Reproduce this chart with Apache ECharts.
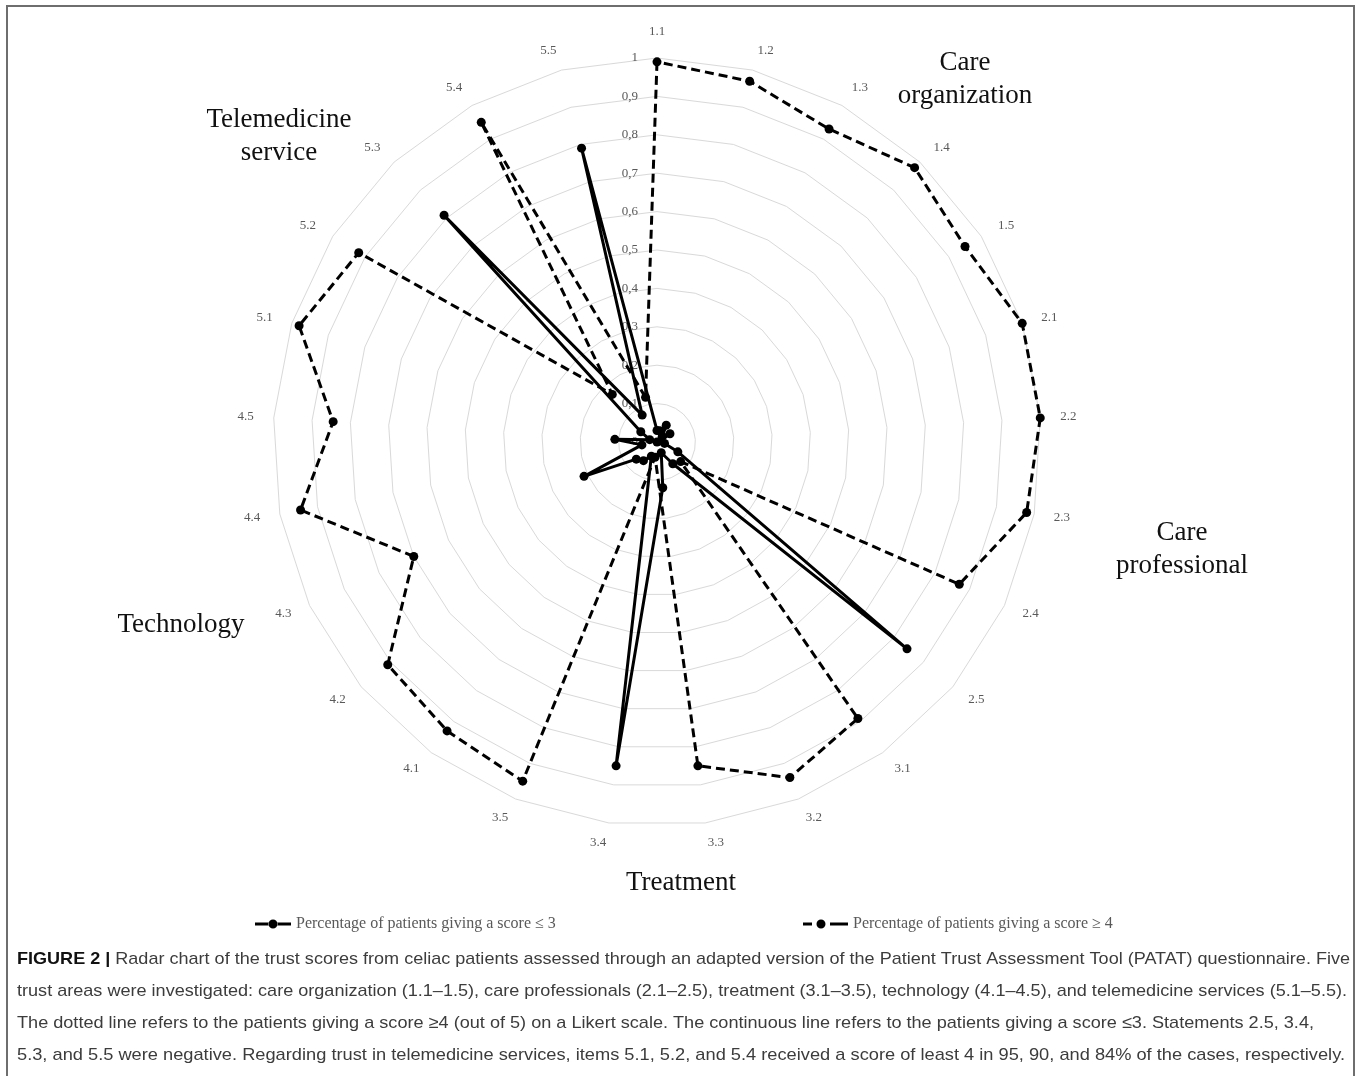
<!DOCTYPE html>
<html><head><meta charset="utf-8">
<script src="https://cdn.jsdelivr.net/npm/echarts@6/dist/echarts.min.js"></script>
<style>html,body{margin:0;padding:0;background:#fff}#c{width:1360px;height:1076px}</style>
</head><body><div id="c"></div>
<script>
// ---- data ----
const items = ['1.1','1.2','1.3','1.4','1.5','2.1','2.2','2.3','2.4','2.5','3.1','3.2','3.3','3.4','3.5','4.1','4.2','4.3','4.4','4.5','5.1','5.2','5.3','5.4','5.5'];
const scoreLow  = [0.03,0.03,0.05,0.02,0.04, 0.01,0.00,0.02,0.06,0.845, 0.07,0.03,0.12,0.85,0.04, 0.06,0.07,0.21,0.04,0.11, 0.02,0.05,0.81,0.08,0.79];
const scoreHigh = [0.99,0.97,0.93,0.98,0.95, 1.00,1.00,0.98,0.87,0.08, 0.89,0.94,0.85,0.04,0.95, 0.93,0.91,0.70,0.945,0.845, 0.98,0.92,0.17,0.95,0.12];
const seriesNames = ['Percentage of patients giving a score \u2264 3', 'Percentage of patients giving a score \u2265 4'];
const ringTicks = ['0','0,1','0,2','0,3','0,4','0,5','0,6','0,7','0,8','0,9','1'];
const areaNames = ['Care\norganization','Care\nprofessional','Treatment','Technology','Telemedicine\nservice'];
const captionBold = 'FIGURE 2 |';
const captionLines = [
 ' Radar chart of the trust scores from celiac patients assessed through an adapted version of the Patient Trust Assessment Tool (PATAT) questionnaire. Five',
 'trust areas were investigated: care organization (1.1\u20131.5), care professionals (2.1\u20132.5), treatment (3.1\u20133.5), technology (4.1\u20134.5), and telemedicine services (5.1\u20135.5).',
 'The dotted line refers to the patients giving a score \u22654 (out of 5) on a Likert scale. The continuous line refers to the patients giving a score \u22643. Statements 2.5, 3.4,',
 '5.3, and 5.5 were negative. Regarding trust in telemedicine services, items 5.1, 5.2, and 5.4 received a score of least 4 in 95, 90, and 84% of the cases, respectively.'
];

// ECharts places radar axes counter-clockwise; reference runs clockwise.
const order = [0];
for (let i = items.length - 1; i >= 1; i--) order.push(i);

const SERIF = '"Liberation Serif", "Times New Roman", serif';
const SANS = '"Liberation Sans", Arial, sans-serif';

// caption scaling (narrow font imitation)
const mctx = document.createElement('canvas').getContext('2d');
function tw(font, s) { mctx.font = font; return mctx.measureText(s).width; }
const capSize = 17;
const capFont = capSize + 'px ' + SANS;
const capBoldFont = 'bold ' + capSize + 'px ' + SANS;
const capX = 17;
const capRight = [1350, 1347, 1314, 1345];
const capY = [959, 991, 1023, 1055];
const capGraphics = captionLines.map((line, i) => {
  let w = tw(capFont, line);
  let text = line;
  let rich;
  if (i === 0) {
    w += tw(capBoldFont, captionBold);
    text = '{b|' + captionBold + '}' + line;
    rich = { b: { fontWeight: 'bold', fontSize: capSize, fontFamily: SANS, fill: '#111' } };
  }
  const s = (capRight[i] - capX) / w;
  return {
    type: 'text', x: capX, y: capY[i], scaleX: s, silent: true,
    style: { text: text, font: capFont, fill: '#3c3c3c', textAlign: 'left', textVerticalAlign: 'middle', rich: rich }
  };
});

const areaPos = [[965, 79], [1182, 549], [681, 883], [181, 625], [279, 136]];
const areaGraphics = areaNames.map((n, i) => ({
  type: 'text', x: areaPos[i][0], y: areaPos[i][1], silent: true,
  style: { text: n, font: '27px ' + SERIF, fill: '#111', textAlign: 'center', textVerticalAlign: 'middle', lineHeight: 33 }
}));

const iconSolid = 'path://M0,3.5H14V6.5H0Z M22,3.5H36V6.5H22Z M13.5,5A4.5,4.5 0 1 0 22.5,5A4.5,4.5 0 1 0 13.5,5Z';
const iconDash = 'path://M0,3.5H9V6.5H0Z M27,3.5H45V6.5H27Z M13.5,5A4.5,4.5 0 1 0 22.5,5A4.5,4.5 0 1 0 13.5,5Z';
const legendText = { color: '#595959', fontFamily: SERIF, fontSize: 16 };

const chart = echarts.init(document.getElementById('c'), null, { renderer: 'canvas' });
chart.setOption({
  backgroundColor: '#fff',
  animation: false,
  legend: [
    { data: [seriesNames[0]], left: 255, top: 916, padding: 0, icon: iconSolid, itemWidth: 36, itemHeight: 10, textStyle: legendText, selectedMode: false },
    { data: [seriesNames[1]], left: 803, top: 916, padding: 0, icon: iconDash, itemWidth: 45, itemHeight: 10, textStyle: legendText, selectedMode: false }
  ],
  radar: {
    center: [657, 442],
    radius: 384,
    startAngle: 90,
    splitNumber: 10,
    shape: 'polygon',
    nameGap: 20,
    axisName: { color: '#595959', fontFamily: SERIF, fontSize: 13 },
    splitLine: { lineStyle: { color: '#d9d9d9', width: 1 } },
    splitArea: { show: false },
    axisLine: { show: false },
    axisTick: { show: false },
    axisLabel: {
      show: false, color: '#595959', fontFamily: SERIF, fontSize: 13, margin: 19,
      formatter: v => ringTicks[Math.round(v * 10)]
    },
    indicator: order.map((i, k) => {
      const o = { name: items[i], min: 0, max: 1 };
      if (k === 0) o.axisLabel = { show: true };
      return o;
    })
  },
  series: [{
    type: 'radar',
    symbol: 'circle',
    symbolSize: 9,
    data: [
      { name: seriesNames[0], value: order.map(i => scoreLow[i]),
        lineStyle: { color: '#000', width: 3, type: 'solid' }, itemStyle: { color: '#000' } },
      { name: seriesNames[1], value: order.map(i => scoreHigh[i]),
        lineStyle: { color: '#000', width: 3, type: [9, 5] }, itemStyle: { color: '#000' } }
    ]
  }],
  graphic: [
    { type: 'rect', silent: true, shape: { x: 7, y: 6, width: 1347, height: 1090 },
      style: { fill: 'none', stroke: '#6e6e6e', lineWidth: 2 } }
  ].concat(areaGraphics, capGraphics)
});
</script>
</body></html>
